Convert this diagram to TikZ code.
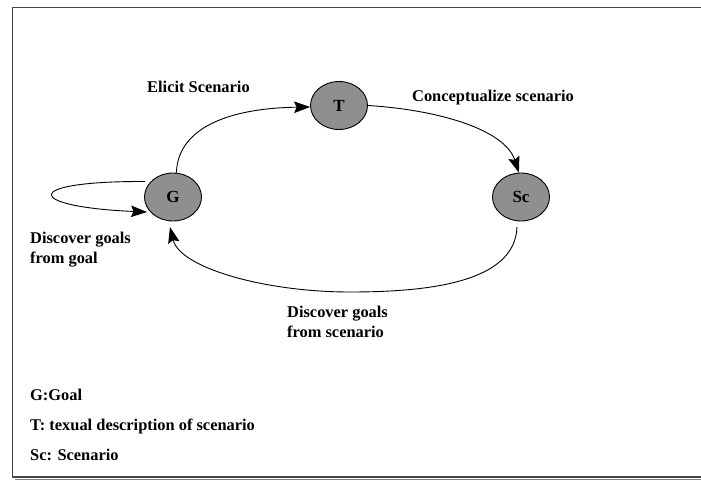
\documentclass[tikz,border=0pt]{standalone}
\usepackage{fontspec}
\setmainfont{Liberation Serif}
\usetikzlibrary{arrows.meta,shapes.geometric}
\definecolor{nodegray}{RGB}{143,143,143}
\definecolor{framegray}{RGB}{70,70,70}
\tikzset{
  state/.style={ellipse, draw=black, line width=0.9pt, fill=nodegray,
    minimum width=57pt, minimum height=48pt, inner sep=0pt,
    font=\fontsize{17}{18}\selectfont\bfseries},
  lbl/.style={anchor=base west, inner sep=0pt,
    font=\fontsize{16.4}{18}\selectfont\bfseries},
  conn/.style={line width=0.9pt, -{Stealth[length=16pt,width=11.5pt,inset=2.5pt]}},
  frameline/.style={draw=framegray, line width=1.3pt}
}
\begin{document}
\begin{tikzpicture}[x=1pt,y=-1pt]
\useasboundingbox (0,0) rectangle (701,481);
% frame
\draw[frameline] (701,7.5) -- (12.5,7.5) -- (12.5,477) -- (701,477);
\draw[draw=gray, line width=1.2pt] (15,479.8) -- (701,479.8);

% nodes
\node[state] (G)  at (173,197) {G};
\node[state] (T)  at (339,105.5) {T};
\node[state] (Sc) at (521,197) {Sc};

% connectors
\draw[conn] (G.82) .. controls (178,125) and (235,108) .. (T.183);
\draw[conn] (T.east) .. controls (440,110) and (505,130) .. (Sc.95);
\coordinate (scb) at (517,227);
\coordinate (gb) at (170,227);
\draw[conn] (scb) .. controls (515,282) and (430,292) .. (350,292)
  .. controls (265,292) and (180,268) .. (gb);
\coordinate (ls) at (145,181.5);
\coordinate (le) at (147,212);
\draw[conn] (ls) .. controls (18,181) and (26,207) .. (le);

% labels
\node[lbl] (l1) at (147,93) {Elicit Scenario};
\node[lbl] (l2) at (412,102) {Conceptualize scenario};
\node[lbl] (l3a) at (30,243) {Discover goals};
\node[lbl] (l3b) at (30,263) {from goal};
\node[lbl] (l4a) at (287,317) {Discover goals};
\node[lbl] (l4b) at (287,337) {from scenario};

% legend
\node[lbl] (k1) at (30,400) {G:Goal};
\node[lbl] (k2) at (30,430) {T: texual description of scenario};
\node[lbl] (k3) at (30,460) {Sc: Scenario};
\end{tikzpicture}
\end{document}
